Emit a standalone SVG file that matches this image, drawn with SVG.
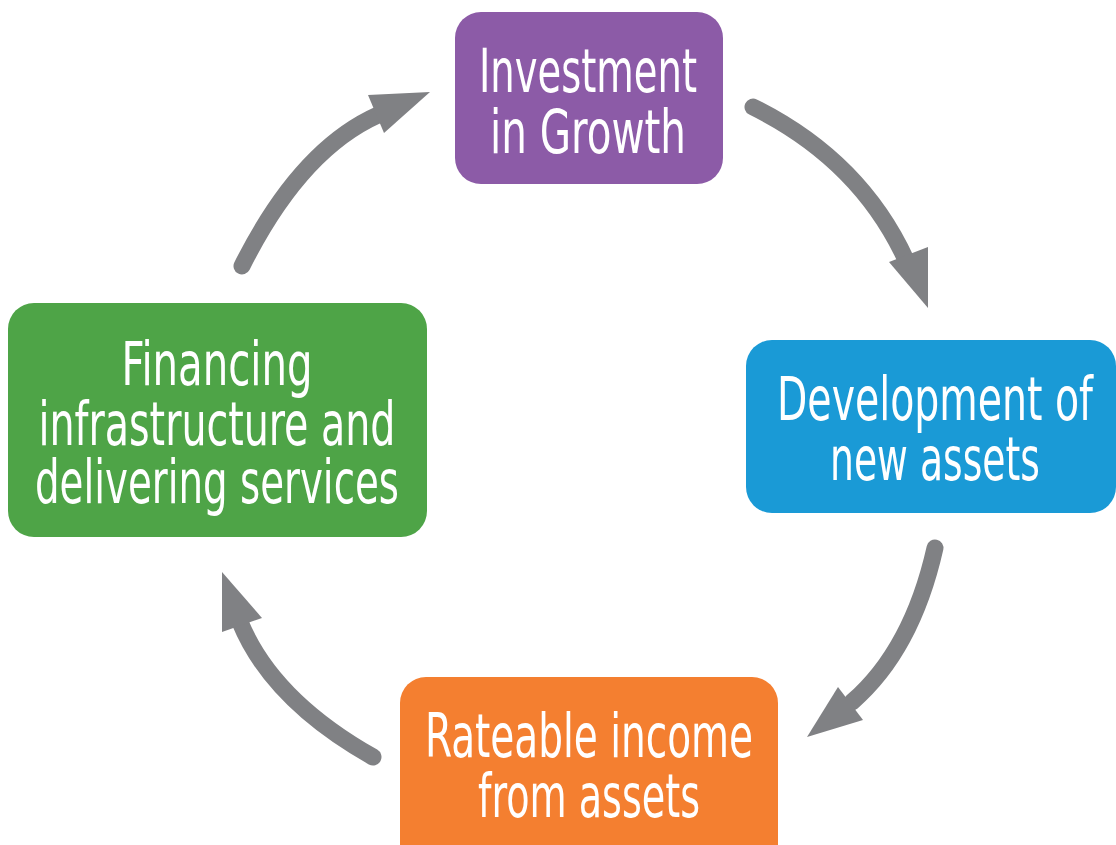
<svg xmlns="http://www.w3.org/2000/svg" width="1116" height="845" viewBox="0 0 1116 845">
<style>
.lbl{font-family:"Liberation Sans Narrow","DejaVu Sans Condensed","Liberation Sans",sans-serif;font-stretch:condensed;font-size:60px;fill:#ffffff;text-anchor:middle}
.shaft{fill:none;stroke:#808184;stroke-width:17;stroke-linecap:round}
.head{fill:#808184}
</style>
<rect width="1116" height="845" fill="#ffffff"/>
<g id="connectors">
<g id="arrow-financing-investment"><path class="shaft" d="M242,266 Q300,150 378,115"/><polygon class="head" points="430,92 368,95 384,133"/></g>
<g id="arrow-investment-development"><path class="shaft" d="M753,107 Q860,160 906,260"/><polygon class="head" points="928,308 889,262 928,247"/></g>
<g id="arrow-development-income"><path class="shaft" d="M935,548 Q912,650 852,702"/><polygon class="head" points="807,737 838,687 863,720"/></g>
<g id="arrow-income-financing"><path class="shaft" d="M373,757 Q272,700 240,622"/><polygon class="head" points="222,572 222,632 262,618"/></g>
</g>
<g id="node-investment">
<rect x="455" y="12" width="268" height="172" rx="26" fill="#8C5BA7"/>
<text class="lbl" x="588" y="92" textLength="218" lengthAdjust="spacingAndGlyphs">Investment</text>
<text class="lbl" x="588" y="153" textLength="196" lengthAdjust="spacingAndGlyphs">in Growth</text>
</g>
<g id="node-development">
<rect x="746" y="340" width="370" height="173" rx="26" fill="#1A9AD6"/>
<text class="lbl" x="935" y="420" textLength="316" lengthAdjust="spacingAndGlyphs">Development of</text>
<text class="lbl" x="935" y="480" textLength="210" lengthAdjust="spacingAndGlyphs">new assets</text>
</g>
<g id="node-income">
<rect x="400" y="677" width="378" height="200" rx="26" fill="#F47F30"/>
<text class="lbl" x="589" y="757" textLength="328" lengthAdjust="spacingAndGlyphs">Rateable income</text>
<text class="lbl" x="589" y="817" textLength="222" lengthAdjust="spacingAndGlyphs">from assets</text>
</g>
<g id="node-financing">
<rect x="8" y="303" width="419" height="234" rx="26" fill="#4EA447"/>
<text class="lbl" x="217" y="385" textLength="191" lengthAdjust="spacingAndGlyphs">Financing</text>
<text class="lbl" x="217" y="445" textLength="357" lengthAdjust="spacingAndGlyphs">infrastructure and</text>
<text class="lbl" x="217" y="503" textLength="364" lengthAdjust="spacingAndGlyphs">delivering services</text>
</g>
</svg>
